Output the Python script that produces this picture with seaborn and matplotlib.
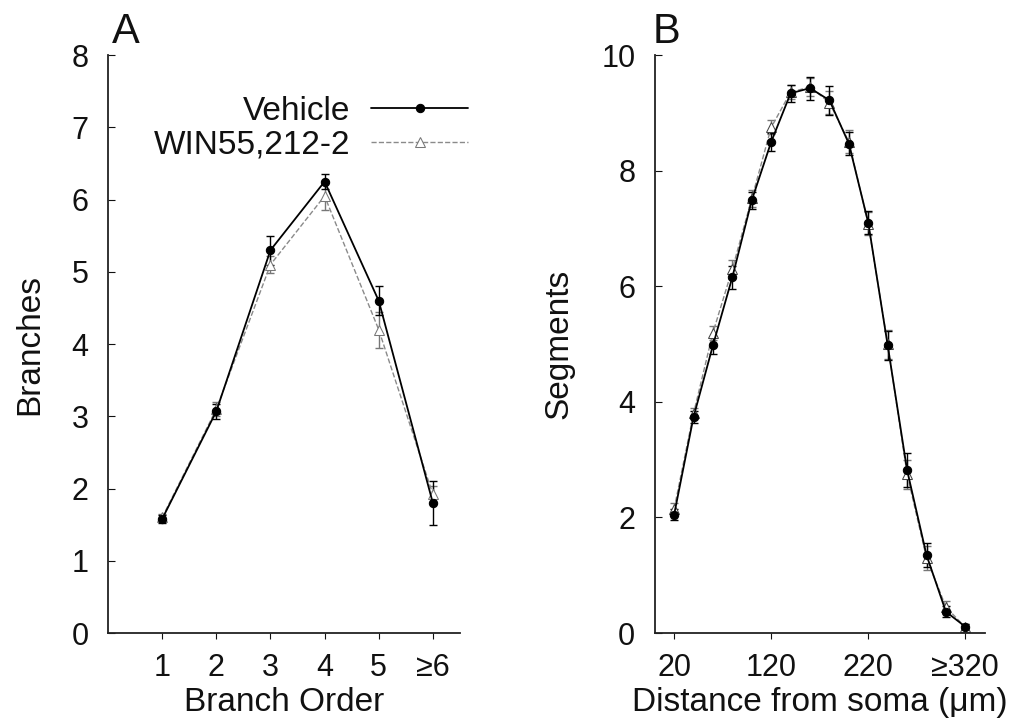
import numpy as np
import pandas as pd
import matplotlib
matplotlib.use("Agg")
import matplotlib.pyplot as plt
import seaborn as sns

# Panel A data: branches per branch order
order = [1, 2, 3, 4, 5, 6]
order_labels = ["1", "2", "3", "4", "5", "\u22656"]
veh_branches = [1.58, 3.07, 5.30, 6.25, 4.60, 1.80]
veh_branches_err = [0.05, 0.10, 0.20, 0.10, 0.20, 0.30]
win_branches = [1.60, 3.10, 5.10, 6.05, 4.20, 1.92]
win_branches_err = [0.05, 0.10, 0.12, 0.20, 0.25, 0.12]

# Panel B data: segments vs distance from soma
distance = [20, 40, 60, 80, 100, 120, 140, 160, 180, 200, 220, 240, 260, 280, 300, 320]
dist_ticks = [20, 120, 220, 320]
dist_labels = ["20", "120", "220", "\u2265320"]
veh_segments = [2.05, 3.74, 4.98, 6.16, 7.49, 8.50, 9.34, 9.43, 9.22, 8.47, 7.10, 4.98, 2.82, 1.35, 0.37, 0.11]
veh_segments_err = [0.10, 0.10, 0.15, 0.20, 0.15, 0.15, 0.15, 0.20, 0.25, 0.20, 0.20, 0.25, 0.30, 0.20, 0.10, 0.05]
win_segments = [2.15, 3.80, 5.20, 6.30, 7.52, 8.75, 9.36, 9.45, 9.18, 8.50, 7.08, 5.00, 2.75, 1.30, 0.45, 0.10]
win_segments_err = [0.10, 0.10, 0.12, 0.15, 0.15, 0.12, 0.12, 0.15, 0.20, 0.20, 0.20, 0.25, 0.25, 0.20, 0.10, 0.05]

sns.set_style("ticks")
plt.rcParams["font.family"] = ["Liberation Sans", "DejaVu Sans"]
plt.rcParams["font.size"] = 22
plt.rcParams["text.color"] = "#111111"
plt.rcParams["axes.labelcolor"] = "#111111"
plt.rcParams["xtick.color"] = "#111111"
plt.rcParams["ytick.color"] = "#111111"

fig = plt.figure(figsize=(10.23, 7.26), dpi=100)
axA = fig.add_axes([0.1056, 0.128, 0.344, 0.796])
axB = fig.add_axes([0.640, 0.128, 0.3226, 0.796])


def draw(ax, x, yv, ev, yw, ew, win_edge):
    ax.errorbar(x, yw, yerr=ew, fmt="none", ecolor="#777777", elinewidth=1, capsize=3, capthick=1)
    ax.errorbar(x, yv, yerr=ev, fmt="none", ecolor="black", elinewidth=1, capsize=3, capthick=1)
    sns.lineplot(x=x, y=yw, ax=ax, color="#8a8a8a", linestyle="--", linewidth=1,
                 marker="^", markersize=7, markerfacecolor="white", markeredgecolor=win_edge,
                 label="WIN55,212-2")
    sns.lineplot(x=x, y=yv, ax=ax, color="black", linewidth=1.3,
                 marker="o", markersize=6, markerfacecolor="black", markeredgecolor="black",
                 label="Vehicle")


draw(axA, order, veh_branches, veh_branches_err, win_branches, win_branches_err, "#777777")
draw(axB, distance, veh_segments, veh_segments_err, win_segments, win_segments_err, "#444444")

for ax in (axA, axB):
    sns.despine(ax=ax)
    ax.spines["left"].set_linewidth(1.3)
    ax.spines["bottom"].set_linewidth(1.3)
    ax.spines["left"].set_color("#222222")
    ax.spines["bottom"].set_color("#222222")
    ax.tick_params(axis="y", direction="in", length=5, labelsize=22, pad=14)
    ax.tick_params(axis="x", direction="out", length=4, labelsize=22, pad=10)

axA.set_xlim(0, 6.5)
axA.set_ylim(0, 8)
axA.set_xticks(order)
axA.set_xticklabels(order_labels)
axA.set_yticks(range(0, 9))
axA.set_xlabel("Branch Order", fontsize=24, labelpad=3)
axA.set_ylabel("Branches", fontsize=24, labelpad=19)

handles, labels = axA.get_legend_handles_labels()
axA.legend(handles[::-1], labels[::-1], loc="upper right", bbox_to_anchor=(1.023, 0.93),
           markerfirst=False, frameon=False, fontsize=24, handlelength=2.9,
           handletextpad=0.64, labelspacing=0.1, borderpad=0, borderaxespad=0)
for t in axA.get_legend().get_texts():
    t.set_ha("right")

axB.set_xlim(0, 340)
axB.set_ylim(0, 10)
axB.set_xticks(dist_ticks)
axB.set_xticklabels(dist_labels)
axB.set_yticks(range(0, 11, 2))
axB.set_xlabel("Distance from soma (\u03bcm)", fontsize=24, labelpad=3)
axB.set_ylabel("Segments", fontsize=24, labelpad=19)
axB.get_legend().remove()

fig.text(0.109, 0.941, "A", fontsize=30)
fig.text(0.638, 0.941, "B", fontsize=30)

fig.savefig("out.png", dpi=100)
